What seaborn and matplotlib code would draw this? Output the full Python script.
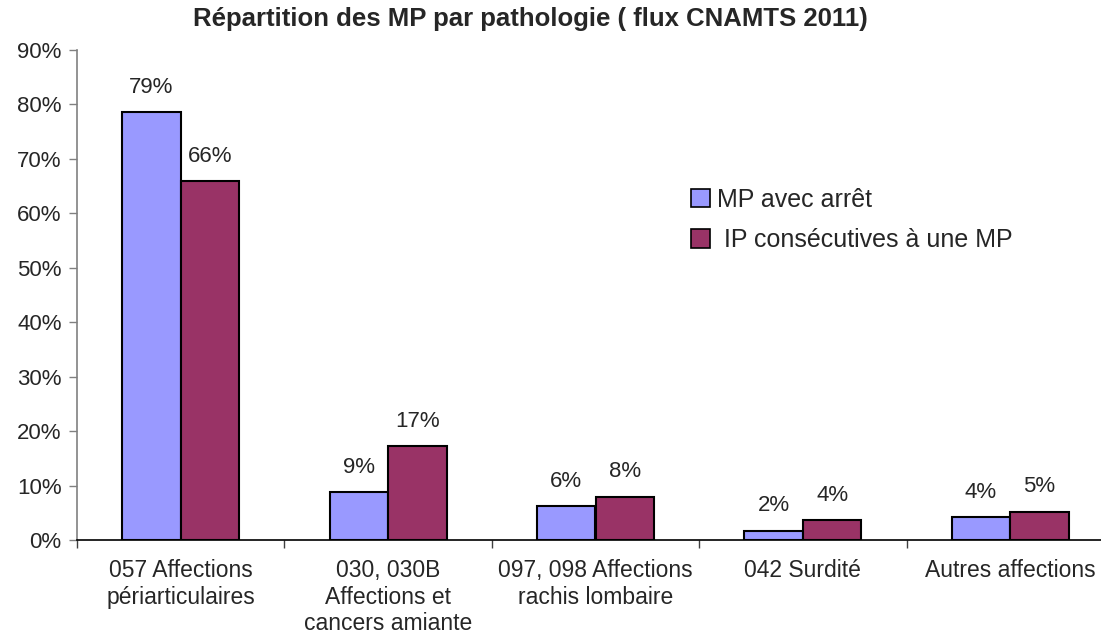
import numpy as np
import pandas as pd
import matplotlib
matplotlib.use('Agg')
import matplotlib.pyplot as plt
from matplotlib.ticker import FixedLocator, FuncFormatter
import seaborn as sns

sns.set_style('white')
plt.rcParams['font.family'] = ['Liberation Sans', 'DejaVu Sans']

categories = ['057 Affections\npériarticulaires',
              '030, 030B\nAffections et\ncancers amiante',
              '097, 098 Affections\nrachis lombaire',
              '042 Surdité',
              'Autres affections']
series = ['MP avec arrêt', ' IP consécutives à une MP']
mp_arret = [78.6, 8.8, 6.2, 1.7, 4.2]
ip_mp = [65.9, 17.2, 7.9, 3.6, 5.2]
colors = ['#9999FF', '#993366']

df = pd.DataFrame({
    'cat': categories * 2,
    'serie': [series[0]] * len(categories) + [series[1]] * len(categories),
    'val': mp_arret + ip_mp,
})

fig = plt.figure(figsize=(11.01, 6.41), dpi=100)
ax = fig.add_axes([77 / 1101, 101 / 641, 1037 / 1101, 490 / 641])

sns.barplot(data=df, x='cat', y='val', hue='serie', order=categories,
            hue_order=series, palette=colors, width=0.565, gap=0,
            edgecolor='black', linewidth=1.5, saturation=1, ax=ax)

# data labels above bars
for cont in ax.containers:
    for bar in cont:
        h = bar.get_height()
        ax.annotate(f'{round(h):.0f}%', (bar.get_x() + bar.get_width() / 2, h),
                    xytext=(0, 18), textcoords='offset points',
                    ha='center', va='center', fontsize=16)

ax.set_xlim(-0.5, len(categories) - 0.5)
ax.set_ylim(0, 90)
ax.yaxis.set_major_locator(FixedLocator(np.arange(0, 91, 10)))
ax.yaxis.set_major_formatter(FuncFormatter(lambda v, p: f'{v:.0f}%'))
ax.set_xlabel('')
ax.set_ylabel('')

ax.xaxis.set_minor_locator(FixedLocator(np.arange(-0.5, len(categories), 1)))
ax.tick_params(axis='x', which='major', length=0, pad=14, labelsize=16.5)
ax.tick_params(axis='x', which='minor', length=6, width=1, color='#404040',
               bottom=True)
ax.tick_params(axis='y', which='major', length=6, width=1, color='#808080',
               left=True, labelsize=16, pad=5)
for lab in ax.get_xticklabels():
    lab.set_linespacing(1.18)

for s in ['top', 'right']:
    ax.spines[s].set_visible(False)
ax.spines['left'].set_color('#808080')
ax.spines['left'].set_linewidth(1.2)
ax.spines['bottom'].set_color('black')
ax.spines['bottom'].set_linewidth(1.2)

ax.get_legend().remove()
handles = [plt.Rectangle((0, 0), 1, 1, facecolor=c, edgecolor='black', linewidth=1.2)
           for c in colors]
fig.legend(handles, series, loc='center left',
           bbox_to_anchor=(691 / 1101, 1 - 220 / 641), frameon=False,
           fontsize=18, handlelength=0.75, handleheight=0.75,
           handletextpad=0.3, labelspacing=0.65, borderpad=0, borderaxespad=0)

fig.text(530 / 1101, 1 - 19 / 641,
         'Répartition des MP par pathologie ( flux CNAMTS 2011)',
         ha='center', va='center', fontsize=18.5, fontweight='bold')

fig.savefig('out.png', dpi=100)
